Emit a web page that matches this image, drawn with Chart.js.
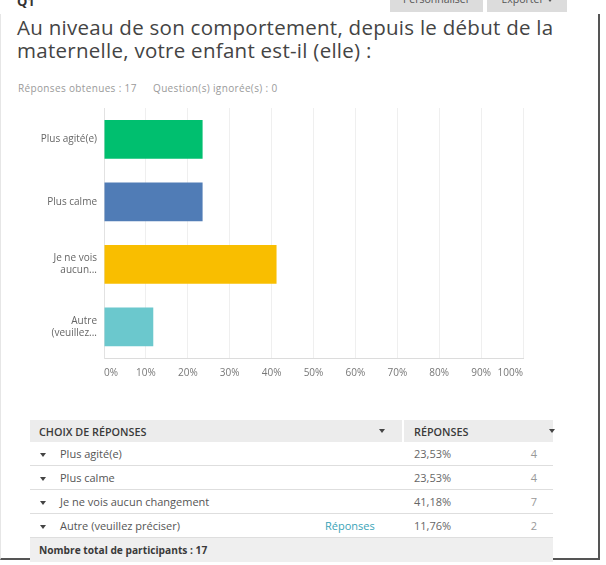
<!DOCTYPE html>
<html>
<head>
<meta charset="utf-8">
<script src="https://cdn.jsdelivr.net/npm/chart.js@4.4.0/dist/chart.umd.min.js"></script>
<style>
  html, body { margin: 0; padding: 0; background: #fff; }
  body { width: 606px; height: 565px; position: relative; overflow: hidden; font-family: "Open Sans", sans-serif; }
  .card { position: absolute; left: 0; top: 14px; width: 597px; height: 544px; border-left: 1px solid #e6e6e6; border-right: 2px solid #555; border-bottom: 2px solid #555; }
  .q { position: absolute; left: 17px; top: -8px; font-size: 13px; font-weight: 700; color: #333; }
  .btn { position: absolute; top: -10px; height: 22px; background: #dcdcdc; color: #555; font-size: 10.5px; line-height: 18px; text-align: center; }
  .title { position: absolute; left: 17px; top: 16px; font-size: 20.5px; letter-spacing: 0.27px; line-height: 22.5px; color: #444; }
  .sub { position: absolute; left: 18px; top: 81px; font-size: 10px; letter-spacing: 0.35px; color: #9a9a9a; }
  .sub span { position: absolute; left: 135px; white-space: nowrap; }
  #wrap { position: absolute; left: 0; top: 100px; width: 540px; height: 290px; }
  table { position: absolute; left: 30px; top: 420px; width: 523px; border-collapse: collapse; font-size: 11px; color: #555; }
  td { padding: 0; height: 23px; border-bottom: 1px solid #dedede; position: relative; white-space: nowrap; }
  tr.head td { background: #ececec; height: 22px; border-bottom: none; font-weight: 600; color: #3a3a3a; font-size: 10.8px; }
  tr.head td.gap { background: #fff; width: 2px; }
  tr.foot td { background: #efefef; height: 24px; border-bottom: none; font-weight: 700; color: #3a3a3a; font-size: 10.2px; }
  .tri { display: inline-block; width: 0; height: 0; border-left: 3px solid transparent; border-right: 3px solid transparent; border-top: 4px solid #444; vertical-align: middle; }
  .link { color: #3aa3b7; }
</style>
</head>
<body>
<div class="card"></div>
<div class="q">Q1</div>
<div class="btn" style="left:390px;width:93px;">Personnaliser</div>
<div class="btn" style="left:487px;width:80px;">Exporter <span class="tri" style="border-top-color:#555"></span></div>
<div class="title">Au niveau de son comportement, depuis le début de la<br>maternelle, votre enfant est-il (elle) :</div>
<div class="sub">Réponses obtenues : 17<span>Question(s) ignorée(s) : 0</span></div>
<div id="wrap"><canvas id="chart" width="540" height="290"></canvas></div>
<table id="tbl"></table>
<script>
const categories = ['Plus agité(e)', 'Plus calme', 'Je ne vois aucun changement', 'Autre (veuillez préciser)'];
const axisLabels = [['Plus agité(e)'], ['Plus calme'], ['Je ne vois', 'aucun...'], ['Autre', '(veuillez...']];
const percents = [23.53, 23.53, 41.18, 11.76];
const counts = [4, 4, 7, 2];
const barColors = ['#00BF6F', '#507CB6', '#F9BE00', '#6BC8CD'];
const totalParticipants = 17;

const ctx = document.getElementById('chart').getContext('2d');
const chart = new Chart(ctx, {
  type: 'bar',
  data: {
    labels: axisLabels,
    datasets: [{
      data: percents,
      backgroundColor: barColors,
      borderWidth: 0,
      barPercentage: 0.62,
      categoryPercentage: 1
    }]
  },
  options: {
    indexAxis: 'y',
    responsive: false,
    animation: false,
    layout: { padding: { left: 0, right: 17, top: 8, bottom: 0 } },
    plugins: { legend: { display: false }, tooltip: { enabled: false } },
    scales: {
      x: {
        min: 0, max: 100,
        ticks: {
          stepSize: 10,
          align: 'inner',
          padding: 9,
          color: '#777',
          font: { family: 'Open Sans', size: 10 },
          callback: (v) => v + '%'
        },
        grid: { color: '#efefef', drawTicks: false },
        border: { color: '#dcdcdc' },
        afterFit: (s) => { s.height = 32; s.paddingLeft = 0; s.paddingRight = 0; }
      },
      y: {
        ticks: {
          padding: 7,
          color: '#666',
          font: { family: 'Open Sans', size: 10 }
        },
        grid: { display: false, drawTicks: false },
        border: { color: '#e2e2e2' },
        // keep the plot box fixed, whatever the label sizes
        afterFit: (s) => { s.width = 104; s.paddingTop = 0; s.paddingBottom = 0; }
      }
    }
  }
});

// table under the chart
const fmt = (p) => p.toFixed(2).replace('.', ',') + '%';
let html = '<tr class="head"><td style="width:363px;padding-left:9px;">CHOIX DE RÉPONSES<span class="tri" style="position:absolute;left:349px;top:9px;"></span></td>' +
  '<td class="gap"></td><td style="padding-left:10px;">RÉPONSES<span class="tri" style="position:absolute;left:145px;top:9px;"></span></td></tr>';
categories.forEach((c, i) => {
  html += '<tr><td style="padding-left:10px;"><span class="tri" style="margin-right:14px;"></span>' + c +
    (i === categories.length - 1 ? '<span class="link" style="position:absolute;left:295px;top:4px;">Réponses</span>' : '') +
    '</td><td></td><td style="padding-left:10px;color:#666;">' + fmt(percents[i]) +
    '<span style="position:absolute;right:16px;top:4px;color:#999;">' + counts[i] + '</span></td></tr>';
});
html += '<tr class="foot"><td colspan="3" style="padding-left:9px;">Nombre total de participants : ' + totalParticipants + '</td></tr>';
document.getElementById('tbl').innerHTML = html;
</script>
</body>
</html>
